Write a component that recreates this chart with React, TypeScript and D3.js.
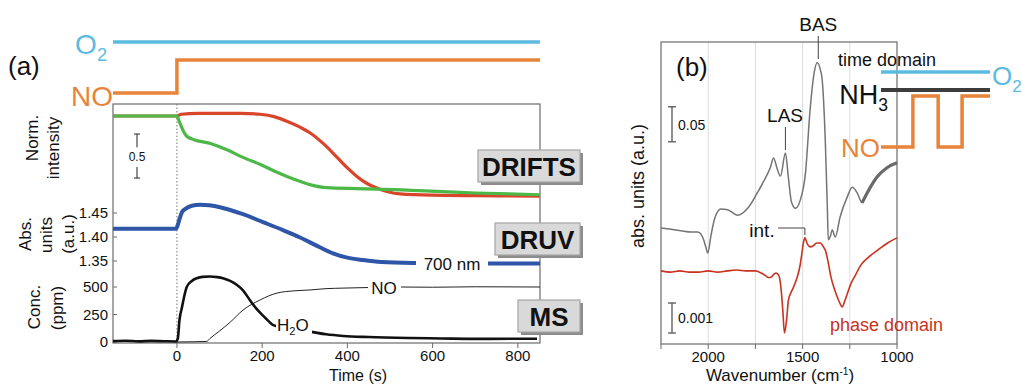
import React, { useEffect, useRef } from 'react';
import * as d3 from 'd3';

// ---------- panel (a): time resolved traces ----------
const timeTicks = [0, 200, 400, 600, 800];

// DRIFTS, normalised intensity
const redTime = [-150, -100, -50, 0, 10, 50, 100, 150, 195, 230, 258, 290, 312, 345, 376, 400, 423, 447, 470, 495, 524, 600, 700, 852];
const redIntensity = [1.0, 1.0, 1.0, 1.0, 1.02, 1.03, 1.03, 1.03, 1.02, 0.99, 0.94, 0.87, 0.81, 0.68, 0.53, 0.41, 0.31, 0.23, 0.18, 0.14, 0.115, 0.1, 0.095, 0.09];
const greenTime = [-150, -50, 0, 3, 7, 15, 23, 40, 77, 120, 155, 200, 235, 275, 312, 352, 420, 470, 550, 625, 700, 852];
const greenIntensity = [1.0, 1.0, 1.0, 0.97, 0.92, 0.83, 0.77, 0.73, 0.69, 0.61, 0.53, 0.44, 0.36, 0.28, 0.22, 0.185, 0.175, 0.17, 0.155, 0.14, 0.125, 0.105];

// DRUV at 700 nm
const druvTicks = [1.35, 1.4, 1.45];
const druvTime = [-150, -2, 2, 7, 12, 19, 35, 54, 101, 150, 202, 250, 289, 330, 366, 400, 437, 480, 554, 700, 852];
const druv700 = [1.417, 1.417, 1.425, 1.44, 1.452, 1.458, 1.465, 1.467, 1.462, 1.449, 1.431, 1.414, 1.399, 1.381, 1.366, 1.357, 1.352, 1.348, 1.346, 1.345, 1.345];

// MS concentrations (ppm)
const msTicks = [0, 250, 500];
const h2oTime = [-150, -120, -90, -60, -30, -2, 2, 6, 12, 18, 23, 35, 47, 60, 77, 95, 108, 125, 141, 155, 171, 185, 202, 215, 225, 250, 280, 312, 350, 390, 450, 547, 620, 705, 780, 845];
const h2oPpm = [8, 12, 6, 10, 7, 5, 30, 200, 318, 430, 500, 555, 580, 592, 596, 590, 580, 555, 518, 470, 382, 310, 240, 190, 155, 130, 110, 94, 70, 55, 45, 36, 32, 28, 30, 30];
const noTime = [0, 40, 70, 77, 100, 125, 155, 195, 235, 275, 312, 350, 390, 446, 524, 600, 700, 852];
const noPpm = [0, 2, 5, 30, 100, 180, 290, 382, 445, 465, 473, 485, 490, 495, 500, 498, 502, 500];

// gas feed (0 = off, 1 = on)
const feedTime = [-150, 0, 0, 852];
const feedNO = [0, 0, 1, 1];
const feedO2 = [1, 1, 1, 1];

// ---------- panel (b): spectra ----------
const waveTicks = [2250, 2000, 1750, 1500, 1250, 1000];
const waveLabels = [2000, 1500, 1000];
const waveGray = [2250, 2197, 2145, 2092, 2055, 2028, 2013, 2002, 1986, 1965, 1933, 1897, 1844, 1791, 1738, 1707, 1670, 1654, 1633, 1617, 1591, 1575, 1559, 1538, 1512, 1485, 1459, 1438, 1422, 1406, 1396, 1380, 1369, 1364, 1353, 1343, 1327, 1301, 1264, 1237, 1211, 1185, 1158, 1105, 1053, 1000];
const absGray = [0.103, 0.101, 0.099, 0.097, 0.097, 0.089, 0.076, 0.067, 0.091, 0.117, 0.130, 0.129, 0.121, 0.131, 0.154, 0.169, 0.190, 0.203, 0.186, 0.177, 0.210, 0.174, 0.140, 0.131, 0.143, 0.181, 0.276, 0.326, 0.339, 0.329, 0.314, 0.229, 0.133, 0.086, 0.091, 0.100, 0.090, 0.119, 0.147, 0.161, 0.153, 0.139, 0.153, 0.176, 0.189, 0.196];
// phase domain spectrum, in units of 0.001
const waveRed = [2250, 2200, 2150, 2100, 2050, 2000, 1950, 1900, 1850, 1800, 1750, 1720, 1700, 1680, 1665, 1650, 1640, 1625, 1615, 1605, 1596, 1585, 1575, 1560, 1548, 1530, 1515, 1505, 1495, 1488, 1475, 1460, 1445, 1425, 1405, 1390, 1380, 1365, 1350, 1330, 1310, 1295, 1290, 1275, 1260, 1245, 1220, 1195, 1150, 1100, 1050, 1000];
const absRedMilli = [0.97, 0.93, 0.97, 0.93, 0.93, 0.97, 0.93, 0.97, 1.0, 0.97, 0.97, 0.9, 0.83, 0.75, 0.77, 0.87, 0.9, 0.8, 0.43, -0.33, -1.1, -0.67, 0.0, 0.27, 0.43, 0.73, 1.1, 1.5, 1.93, 2.07, 1.87, 1.77, 1.8, 1.9, 1.9, 1.77, 1.67, 1.27, 0.77, 0.33, 0.0, -0.2, -0.23, 0.0, 0.27, 0.53, 0.83, 1.13, 1.43, 1.67, 1.9, 2.07];

// pulse legend (time domain)
const pulseStep = [0, 1.2, 1.2, 2.15, 2.15, 3.05, 3.05, 4.1];
const pulseNO = [0, 0, 1, 1, 0, 0, 1, 1];

const FONT = "'Liberation Sans', Arial, Helvetica, sans-serif";
const FRAME = '#6b6b6b';

const zip = (xs: number[], ys: number[]) => xs.map((x, i) => [x, ys[i]] as [number, number]);

const App = () => {
    const svgRef = useRef<SVGSVGElement>(null);

    useEffect(() => {
        const svg = d3.select(svgRef.current);
        svg.selectAll('*').remove();
        svg.style('font-family', FONT);

        // text helper; parts = [text, 'sub'|'sup'|'back'|'backsup'|undefined]
        const label = (g: any, x: number, y: number, parts: [string, string?][], size: number, opts: any = {}) => {
            const t = g.append('text')
                .attr('x', x).attr('y', y)
                .attr('dy', '0.35em')
                .attr('font-size', size)
                .attr('fill', opts.fill || '#111')
                .attr('font-weight', opts.weight || 'normal')
                .attr('text-anchor', opts.anchor || 'start');
            if (opts.rotate) t.attr('transform', `rotate(-90, ${x}, ${y})`);
            parts.forEach(([s, kind]) => {
                const sp = t.append('tspan').text(s);
                if (kind === 'sub') sp.attr('font-size', size * 0.65).attr('dy', size * 0.25);
                if (kind === 'sup') sp.attr('font-size', size * 0.6).attr('dy', -size * 0.35);
                if (kind === 'back') sp.attr('dy', -size * 0.25);
                if (kind === 'backsup') sp.attr('dy', size * 0.35);
            });
            return t;
        };

        const tagBox = (g: any, x0: number, x1: number, y0: number, y1: number, text: string) => {
            g.append('rect').attr('x', x0 + 3).attr('y', y0 + 3).attr('width', x1 - x0).attr('height', y1 - y0).attr('fill', '#8c8c8c');
            g.append('rect').attr('x', x0).attr('y', y0).attr('width', x1 - x0).attr('height', y1 - y0)
                .attr('fill', '#d9d9d9').attr('stroke', '#a5a5a5').attr('stroke-width', 1.2);
            label(g, (x0 + x1) / 2, (y0 + y1) / 2 + 1, [[text]], 26, { anchor: 'middle', weight: 'bold' });
        };

        // ================= panel (a) =================
        const a = svg.append('g');
        const xA = d3.scaleLinear().domain([-150, 852]).range([113, 540]);
        const yDrifts = d3.scaleLinear().domain([0, 1]).range([204, 116]);
        const yDruv = d3.scaleLinear().domain([1.35, 1.45]).range([261, 213]);
        const yMs = d3.scaleLinear().domain([0, 500]).range([342, 287]);
        const top = 104, bottom = 343;

        // gas feed schematic
        const yFeedO2 = d3.scaleLinear().domain([0, 1]).range([42, 42]);
        const yFeedNO = d3.scaleLinear().domain([0, 1]).range([93, 60]);
        const feedLine = (ys: number[], yScale: any) => d3.line<[number, number]>()
            .x(d => xA(d[0])).y(d => yScale(d[1]))(zip(feedTime, ys));
        a.append('path').attr('d', feedLine(feedO2, yFeedO2)).attr('fill', 'none').attr('stroke', '#5bbbe0').attr('stroke-width', 3.5);
        a.append('path').attr('d', feedLine(feedNO, yFeedNO)).attr('fill', 'none').attr('stroke', '#e8843a').attr('stroke-width', 3.5);
        label(a, 107, 44, [['O'], ['2', 'sub']], 28, { anchor: 'end', fill: '#5bbbe0' });
        label(a, 113, 96, [['NO']], 28, { anchor: 'end', fill: '#e8843a' });
        label(a, 8, 66, [['(a)']], 26);

        // frame
        a.append('rect').attr('x', xA(-150)).attr('y', top).attr('width', xA(852) - xA(-150)).attr('height', bottom - top)
            .attr('fill', 'none').attr('stroke', FRAME).attr('stroke-width', 1.2);
        a.append('line').attr('x1', xA(0)).attr('x2', xA(0)).attr('y1', top).attr('y2', bottom)
            .attr('stroke', '#777').attr('stroke-dasharray', '1.5,2').attr('stroke-width', 1);

        // x axis
        timeTicks.forEach(t => {
            a.append('line').attr('x1', xA(t)).attr('x2', xA(t)).attr('y1', bottom).attr('y2', bottom + 5).attr('stroke', FRAME);
            label(a, xA(t), 356, [[String(t)]], 15, { anchor: 'middle' });
        });
        label(a, 358, 375, [['Time (s)']], 16, { anchor: 'middle' });

        // y ticks
        druvTicks.forEach(v => {
            a.append('line').attr('x1', 113).attr('x2', 117).attr('y1', yDruv(v)).attr('y2', yDruv(v)).attr('stroke', FRAME);
            label(a, 108, yDruv(v), [[v.toFixed(2)]], 15, { anchor: 'end' });
        });
        msTicks.forEach(v => {
            a.append('line').attr('x1', 113).attr('x2', 117).attr('y1', yMs(v)).attr('y2', yMs(v)).attr('stroke', FRAME);
            label(a, 108, yMs(v), [[String(v)]], 15, { anchor: 'end' });
        });

        // y titles
        label(a, 32, 138, [['Norm.']], 17, { anchor: 'middle', rotate: true });
        label(a, 53, 148, [['intensity']], 17, { anchor: 'middle', rotate: true });
        label(a, 25, 234, [['Abs.']], 17, { anchor: 'middle', rotate: true });
        label(a, 46, 235, [['units']], 17, { anchor: 'middle', rotate: true });
        label(a, 68, 234, [['(a.u.)']], 17, { anchor: 'middle', rotate: true });
        label(a, 34, 307, [['Conc.']], 17, { anchor: 'middle', rotate: true });
        label(a, 57, 308, [['(ppm)']], 17, { anchor: 'middle', rotate: true });

        // 0.5 scale bar
        const sbx = 137;
        [[yDrifts(0.795), yDrifts(0.645)], [yDrifts(0.42), yDrifts(0.295)]].forEach(([y1, y2]) => {
            a.append('line').attr('x1', sbx).attr('x2', sbx).attr('y1', y1).attr('y2', y2).attr('stroke', '#444').attr('stroke-width', 1.2);
        });
        [yDrifts(0.795), yDrifts(0.295)].forEach(y => {
            a.append('line').attr('x1', sbx - 3).attr('x2', sbx + 3).attr('y1', y).attr('y2', y).attr('stroke', '#444').attr('stroke-width', 1.2);
        });
        label(a, sbx, yDrifts(0.535), [['0.5']], 12, { anchor: 'middle' });

        const lineA = (ts: number[], vs: number[], yScale: any) => d3.line<[number, number]>()
            .x(d => xA(d[0])).y(d => yScale(d[1])).curve(d3.curveMonotoneX)(zip(ts, vs));

        // MS traces
        a.append('path').attr('d', lineA(noTime, noPpm, yMs)).attr('fill', 'none').attr('stroke', '#222').attr('stroke-width', 1);
        a.append('path').attr('d', lineA(h2oTime, h2oPpm, yMs)).attr('fill', 'none').attr('stroke', '#111').attr('stroke-width', 2.6);
        a.append('rect').attr('x', 368).attr('y', 280).attr('width', 33).attr('height', 16).attr('fill', 'white');
        label(a, 384, 288, [['NO']], 17, { anchor: 'middle' });
        a.append('rect').attr('x', 276).attr('y', 317).attr('width', 36).attr('height', 18).attr('fill', 'white');
        label(a, 277, 325, [['H'], ['2', 'sub'], ['O', 'back']], 17);

        // DRUV
        a.append('path').attr('d', lineA(druvTime, druv700, yDruv)).attr('fill', 'none').attr('stroke', '#2e55a8').attr('stroke-width', 4);
        a.append('rect').attr('x', 416).attr('y', 255).attr('width', 72).attr('height', 18).attr('fill', 'white');
        label(a, 452, 264, [['700 nm']], 17, { anchor: 'middle' });

        // DRIFTS
        a.append('path').attr('d', lineA(redTime, redIntensity, yDrifts)).attr('fill', 'none').attr('stroke', '#d9452a').attr('stroke-width', 3.2);
        a.append('path').attr('d', lineA(greenTime, greenIntensity, yDrifts)).attr('fill', 'none').attr('stroke', '#4cb848').attr('stroke-width', 3.2);

        tagBox(a, 478, 580, 150, 182, 'DRIFTS');
        tagBox(a, 495, 580, 223, 255, 'DRUV');
        tagBox(a, 518, 580, 300, 332, 'MS');

        // ================= panel (b) =================
        const b = svg.append('g');
        const xB = d3.scaleLinear().domain([2250, 1000]).range([661, 897]);
        const yGray = d3.scaleLinear().domain([0, 0.05]).range([300, 265]);
        const yRed = d3.scaleLinear().domain([0, 1]).range([300, 270]);
        const topB = 42, bottomB = 344;

        [2000, 1750, 1500, 1250].forEach(w => {
            b.append('line').attr('x1', xB(w)).attr('x2', xB(w)).attr('y1', topB).attr('y2', bottomB)
                .attr('stroke', '#dcdcdc').attr('stroke-width', 1);
        });
        b.append('rect').attr('x', xB(2250)).attr('y', topB).attr('width', xB(1000) - xB(2250)).attr('height', bottomB - topB)
            .attr('fill', 'none').attr('stroke', FRAME).attr('stroke-width', 1.2);
        waveTicks.forEach(w => {
            b.append('line').attr('x1', xB(w)).attr('x2', xB(w)).attr('y1', bottomB).attr('y2', bottomB + 5).attr('stroke', FRAME);
        });
        waveLabels.forEach(w => label(b, xB(w), 357, [[String(w)]], 15, { anchor: 'middle' }));
        label(b, 780, 375, [['Wavenumber (cm'], ['-1', 'sup'], [')', 'backsup']], 17, { anchor: 'middle' });
        label(b, 638, 186, [['abs. units (a.u.)']], 18, { anchor: 'middle', rotate: true });
        label(b, 676, 67, [['(b)']], 26);

        const lineB = (ws: number[], vs: number[], yScale: any) => d3.line<[number, number]>()
            .x(d => xB(d[0])).y(d => yScale(d[1])).curve(d3.curveMonotoneX)(zip(ws, vs));
        b.append('path').attr('d', lineB(waveGray, absGray, yGray)).attr('fill', 'none').attr('stroke', '#747474').attr('stroke-width', 1.5);
        const thick = waveGray.map((w, i) => i).filter(i => waveGray[i] <= 1190);
        b.append('path').attr('d', lineB(thick.map(i => waveGray[i]), thick.map(i => absGray[i]), yGray))
            .attr('fill', 'none').attr('stroke', '#6a6a6a').attr('stroke-width', 3.2);
        b.append('path').attr('d', lineB(waveRed, absRedMilli, yRed)).attr('fill', 'none').attr('stroke', '#c8321e').attr('stroke-width', 1.6);

        // scale bars
        const bar = (x: number, y1: number, y2: number) => {
            b.append('line').attr('x1', x).attr('x2', x).attr('y1', y1).attr('y2', y2).attr('stroke', '#555').attr('stroke-width', 1.3);
            [y1, y2].forEach(y => b.append('line').attr('x1', x - 4).attr('x2', x + 4).attr('y1', y).attr('y2', y).attr('stroke', '#555').attr('stroke-width', 1.3));
        };
        bar(672, yGray(0.276), yGray(0.226));
        label(b, 678, 125, [['0.05']], 14);
        bar(672, yRed(-0.1), yRed(-1.1));
        label(b, 678, 318, [['0.001']], 14);

        // peak annotations
        b.append('line').attr('x1', xB(1417)).attr('x2', xB(1417)).attr('y1', 36).attr('y2', 59).attr('stroke', '#444');
        label(b, xB(1417), 24, [['BAS']], 19, { anchor: 'middle' });
        b.append('line').attr('x1', xB(1591)).attr('x2', xB(1591)).attr('y1', 127).attr('y2', 150).attr('stroke', '#444');
        label(b, xB(1593), 115, [['LAS']], 19, { anchor: 'middle' });
        b.append('path').attr('d', d3.line()([[778, 228], [xB(1488), 228], [xB(1488), 235]])).attr('fill', 'none').attr('stroke', '#444');
        label(b, 762, 230, [['int.']], 19, { anchor: 'middle' });
        label(b, 830, 325, [['phase domain']], 18, { fill: '#c8321e' });

        // time domain legend
        const xP = d3.scaleLinear().domain([0, 4.1]).range([881, 990]);
        const yP = d3.scaleLinear().domain([0, 1]).range([147, 96]);
        label(b, 838, 60, [['time domain']], 18);
        b.append('line').attr('x1', xP(0)).attr('x2', xP(4.1)).attr('y1', 72).attr('y2', 72).attr('stroke', '#5bbbe0').attr('stroke-width', 3.5);
        label(b, 992, 76, [['O'], ['2', 'sub']], 26, { fill: '#5bbbe0' });
        b.append('line').attr('x1', xP(0)).attr('x2', xP(4.1)).attr('y1', 90).attr('y2', 90).attr('stroke', '#3d3d3d').attr('stroke-width', 4);
        label(b, 888, 95, [['NH'], ['3', 'sub']], 27, { anchor: 'end' });
        b.append('path').attr('d', d3.line<[number, number]>().x(d => xP(d[0])).y(d => yP(d[1]))(zip(pulseStep, pulseNO)))
            .attr('fill', 'none').attr('stroke', '#e8843a').attr('stroke-width', 3.5);
        label(b, 880, 148, [['NO']], 26, { anchor: 'end', fill: '#e8843a' });
    }, []);

    return (
        <div style={{ position: 'absolute', left: 0, top: 0 }}>
            <svg ref={svgRef} width={1022} height={385}></svg>
        </div>
    );
};

export default App;
